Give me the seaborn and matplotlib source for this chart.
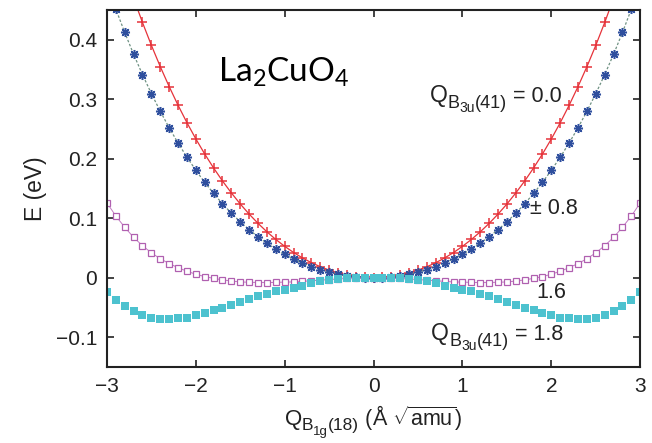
import matplotlib
matplotlib.use("Agg")
import matplotlib.pyplot as plt
from matplotlib.transforms import offset_copy
import seaborn as sns

# ---------------- data ----------------
q_b1g = [-3.0, -2.9, -2.8, -2.7, -2.6, -2.5, -2.4, -2.3, -2.2, -2.1,
         -2.0, -1.9, -1.8, -1.7, -1.6, -1.5, -1.4, -1.3, -1.2, -1.1,
         -1.0, -0.9, -0.8, -0.7, -0.6, -0.5, -0.4, -0.3, -0.2, -0.1,
         0.0, 0.1, 0.2, 0.3, 0.4, 0.5, 0.6, 0.7, 0.8, 0.9,
         1.0, 1.1, 1.2, 1.3, 1.4, 1.5, 1.6, 1.7, 1.8, 1.9,
         2.0, 2.1, 2.2, 2.3, 2.4, 2.5, 2.6, 2.7, 2.8, 2.9, 3.0]

e_q00 = [0.6089, 0.5598, 0.5136, 0.4701, 0.4293, 0.3910, 0.3551, 0.3216, 0.2902, 0.2609,
         0.2336, 0.2082, 0.1847, 0.1628, 0.1427, 0.1241, 0.1071, 0.0915, 0.0773, 0.0644,
         0.0529, 0.0425, 0.0334, 0.0254, 0.0186, 0.0129, 0.0082, 0.0046, 0.0020, 0.0005,
         0.0,
         0.0005, 0.0020, 0.0046, 0.0082, 0.0129, 0.0186, 0.0254, 0.0334, 0.0425, 0.0529,
         0.0644, 0.0773, 0.0915, 0.1071, 0.1241, 0.1427, 0.1628, 0.1847, 0.2082, 0.2336,
         0.2609, 0.2902, 0.3216, 0.3551, 0.3910, 0.4293, 0.4701, 0.5136, 0.5598, 0.6089]

e_q08 = [0.4938, 0.4519, 0.4126, 0.3759, 0.3417, 0.3098, 0.2800, 0.2524, 0.2267, 0.2029,
         0.1809, 0.1605, 0.1418, 0.1245, 0.1086, 0.0941, 0.0809, 0.0689, 0.0580, 0.0482,
         0.0394, 0.0316, 0.0248, 0.0188, 0.0138, 0.0095, 0.0060, 0.0034, 0.0015, 0.0004,
         0.0,
         0.0004, 0.0015, 0.0034, 0.0060, 0.0095, 0.0138, 0.0188, 0.0248, 0.0316, 0.0394,
         0.0482, 0.0580, 0.0689, 0.0809, 0.0941, 0.1086, 0.1245, 0.1418, 0.1605, 0.1809,
         0.2029, 0.2267, 0.2524, 0.2800, 0.3098, 0.3417, 0.3759, 0.4126, 0.4519, 0.4938]

e_q16 = [0.1260, 0.1040, 0.0850, 0.0680, 0.0540, 0.0420, 0.0320, 0.0240, 0.0170, 0.0110,
         0.0060, 0.0020, -0.0010, -0.0035, -0.0055, -0.0070, -0.0075, -0.0080, -0.0080, -0.0078,
         -0.0072, -0.0070, -0.0060, -0.0050, -0.0040, -0.0030, -0.0020, -0.0010, -0.0005, -0.0001,
         0.0,
         -0.0001, -0.0005, -0.0010, -0.0020, -0.0030, -0.0040, -0.0050, -0.0060, -0.0070, -0.0072,
         -0.0078, -0.0080, -0.0080, -0.0075, -0.0070, -0.0055, -0.0035, -0.0010, 0.0020, 0.0060,
         0.0110, 0.0170, 0.0240, 0.0320, 0.0420, 0.0540, 0.0680, 0.0850, 0.1040, 0.1260]

e_q18 = [-0.0240, -0.0370, -0.0470, -0.0560, -0.0630, -0.0670, -0.0690, -0.0690, -0.0680, -0.0670,
         -0.0630, -0.0590, -0.0550, -0.0500, -0.0450, -0.0410, -0.0350, -0.0310, -0.0270, -0.0230,
         -0.0200, -0.0170, -0.0130, -0.0090, -0.0060, -0.0040, -0.0020, -0.0010, -0.0005, -0.0001,
         0.0,
         -0.0001, -0.0005, -0.0010, -0.0020, -0.0040, -0.0060, -0.0090, -0.0130, -0.0170, -0.0200,
         -0.0230, -0.0270, -0.0310, -0.0350, -0.0410, -0.0450, -0.0500, -0.0550, -0.0590, -0.0630,
         -0.0670, -0.0680, -0.0690, -0.0690, -0.0670, -0.0630, -0.0560, -0.0470, -0.0370, -0.0240]

x_ticks = [-3, -2, -1, 0, 1, 2, 3]
x_ticklabels = ["\u22123", "\u22122", "\u22121", "0", "1", "2", "3"]
y_ticks = [-0.1, 0.0, 0.1, 0.2, 0.3, 0.4]
y_ticklabels = ["\u22120.1", "0", "0.1", "0.2", "0.3", "0.4"]

# ---------------- style ----------------
sns.set_theme(style="ticks")
plt.rcParams["font.family"] = ["Liberation Sans", "DejaVu Sans"]
plt.rcParams["mathtext.fontset"] = "custom"
plt.rcParams["mathtext.rm"] = "Liberation Sans"
plt.rcParams["mathtext.it"] = "Liberation Sans"
plt.rcParams["mathtext.bf"] = "Liberation Sans:bold"
TXT = "#222222"

fig = plt.figure(figsize=(6.52, 4.43), dpi=100)
ax = fig.add_axes([0.164, 0.1716, 0.818, 0.8054])

sns.lineplot(x=q_b1g, y=e_q00, ax=ax, color="#e6333a", lw=0.9, marker="+",
             markersize=7, markeredgewidth=1.1, markeredgecolor="#e6333a",
             sort=False, estimator=None)
sns.lineplot(x=q_b1g, y=e_q08, ax=ax, color="#6f9283", lw=0.9, linestyle=(0, (2, 1.5)),
             marker=(8, 2, 0), markersize=6.5, markeredgewidth=1.1,
             markeredgecolor="#2f4f9e", markerfacecolor="#2f4f9e",
             sort=False, estimator=None)
sns.lineplot(x=q_b1g, y=e_q16, ax=ax, color="#c27ac2", lw=0.7, marker="s",
             markersize=4.5, markeredgewidth=0.9, markerfacecolor="white",
             markeredgecolor="#b060b0", sort=False, estimator=None)
sns.lineplot(x=q_b1g, y=e_q18, ax=ax, color="#4dc2cf", lw=0, marker="s",
             markersize=5.3, markeredgewidth=0, markerfacecolor="#4dc2cf",
             markeredgecolor="#4dc2cf", sort=False, estimator=None)

ax.set_xlim(-3, 3)
ax.set_ylim(-0.15, 0.45)
ax.set_xticks(x_ticks)
ax.set_xticklabels(x_ticklabels)
ax.set_yticks(y_ticks)
ax.set_yticklabels(y_ticklabels)
ax.tick_params(direction="in", length=5, width=1.2, labelsize=15, colors=TXT,
               top=True, right=True, labeltop=False, labelright=False, pad=7)
for s in ax.spines.values():
    s.set_visible(True)
    s.set_linewidth(1.5)
    s.set_color(TXT)

ax.set_ylabel("E (eV)", fontsize=16.5, color=TXT, labelpad=6)

renderer = fig.canvas.get_renderer()


def chain_text(base, x, y, pieces, center=False):
    """Place text pieces (string, size, dy in points) one after another."""
    widths = []
    for s, size, dy in pieces:
        t = ax.text(0, 0, s, fontsize=size, transform=base)
        widths.append(t.get_window_extent(renderer).width * 72.0 / fig.dpi)
        t.remove()
    cum = -sum(widths) / 2.0 if center else 0.0
    for (s, size, dy), w in zip(pieces, widths):
        ax.text(x, y, s, fontsize=size, color=TXT, va="baseline", ha="left",
                transform=offset_copy(base, fig=fig, x=cum, y=dy, units="points"),
                clip_on=False)
        cum += w


# x label
chain_text(ax.transAxes, 0.5, -0.162,
           [("Q", 16, 0), ("B", 12.5, -4), ("1g", 9.5, -7), ("(18)", 12.5, -4),
            (r" (Å $\sqrt{\mathregular{amu}}$)", 15.5, 0)], center=True)

ax.text(-1.75, 0.346, r"La$_\mathregular{2}$CuO$_\mathregular{4}$", family=["Lato", "DejaVu Sans"],
        fontsize=24, color="black", va="center", ha="left")

chain_text(ax.transData, 0.63, 0.295,
           [("Q", 16.5, 0), ("B", 13, -4), ("3u", 10, -7), ("(41)", 13, -4), (" = 0.0", 15.5, 0)])
chain_text(ax.transData, 0.65, -0.105,
           [("Q", 16.5, 0), ("B", 13, -4), ("3u", 10, -7), ("(41)", 13, -4), (" = 1.8", 15.5, 0)])
ax.text(1.76, 0.117, "\u00b1 0.8", fontsize=15.5, color=TXT, va="center", ha="left")
ax.text(1.83, -0.025, "1.6", fontsize=15.5, color=TXT, va="center", ha="left")

fig.savefig("out.png", dpi=100)
